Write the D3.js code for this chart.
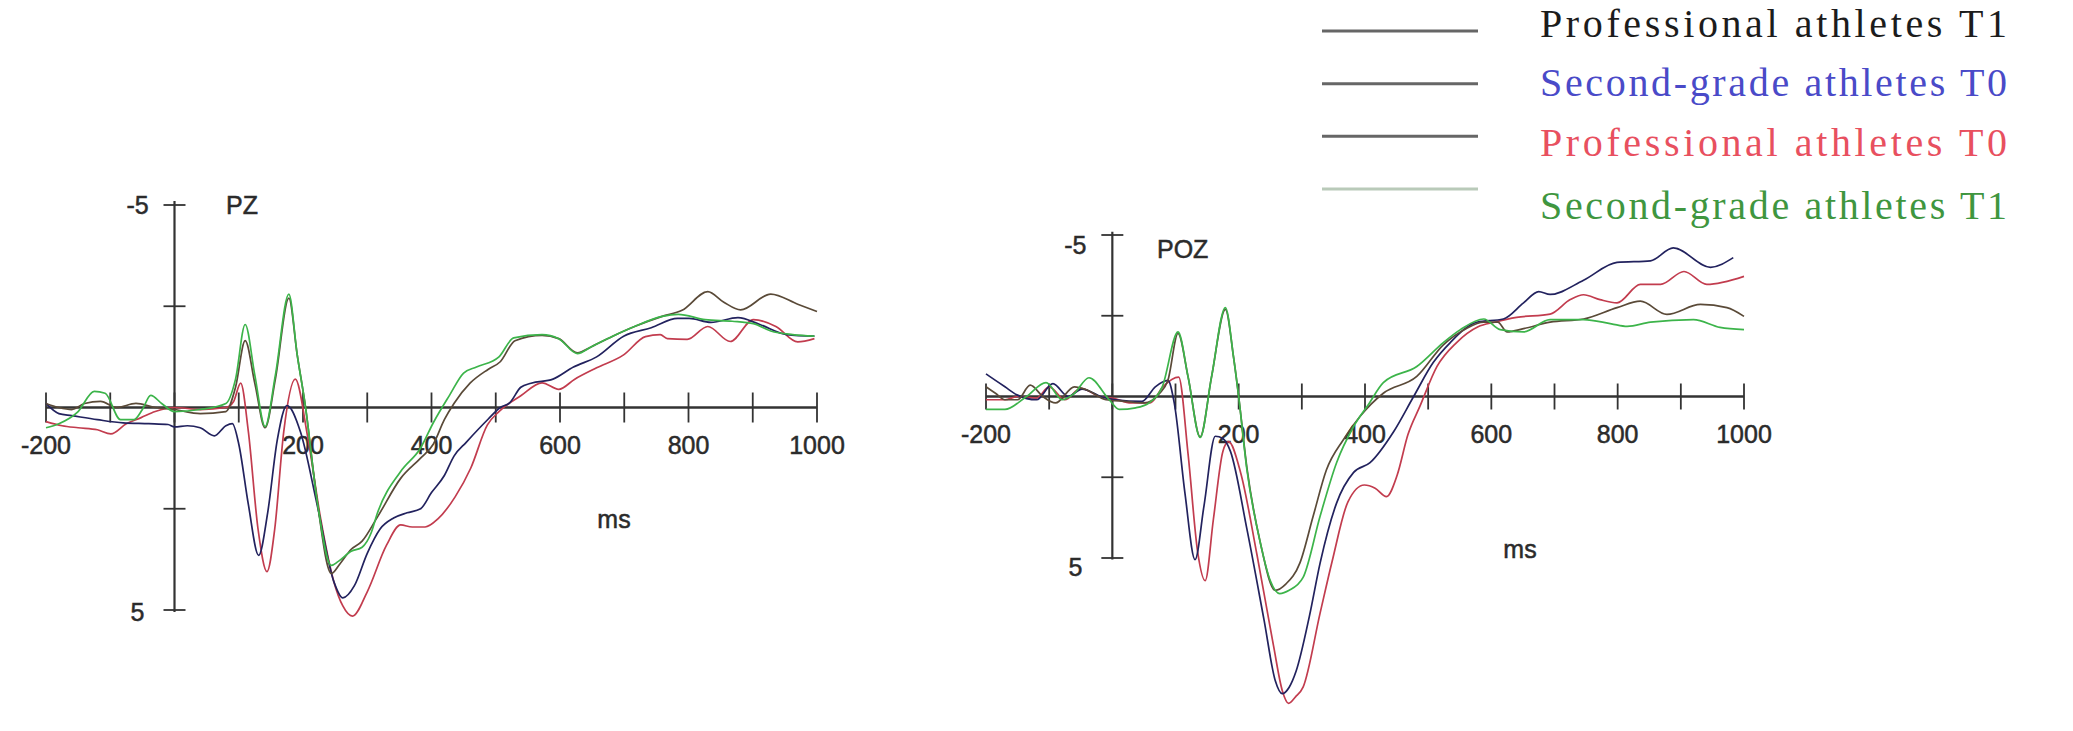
<!DOCTYPE html>
<html lang="en">
<head>
    <meta charset="utf-8">
    <title>ERP waveforms PZ / POZ</title>
    <script src="https://d3js.org/d3.v7.min.js"></script>
    <style>
        body { margin: 0; background: #fff; }
        .axis-line { stroke: #333; fill: none; }
        .tick-label {
            font-family: "Liberation Sans", Arial, sans-serif;
            font-size: 25px;
            fill: #2b2b2b;
            stroke: #2b2b2b;
            stroke-width: 0.5;
        }
        .wave { fill: none; stroke-width: 1.7; stroke-linejoin: round; }
        .legend-text {
            font-family: "Liberation Serif", "Times New Roman", serif;
            font-size: 40px;
        }
    </style>
</head>
<body>
<script>
    // series legend (same order as the colours below)
    var seriesNames = ["Professional athletes T1", "Second-grade athletes T0",
                       "Professional athletes T0", "Second-grade athletes T1"];

    // tick values / labels
    var xTicks = [-200, -100, 0, 100, 200, 300, 400, 500, 600, 700, 800, 900, 1000];
    var xTickLabels = [-200, 200, 400, 600, 800, 1000];
    var yTicks = [-5, -2.5, 2.5, 5];
    var yTickLabels = [-5, 5];

    // ---- PZ, [ms, uV] ----
    var pzProT1 = [[-200,-0.1],[-180,0.0],[-160,0.05],[-140,-0.1],[-115,-0.15],[-90,0.0],[-60,-0.1],[-30,0.0],[0,0.05],[40,0.15],[80,0.1],[95,-0.5],[110,-1.65],[125,-0.6],[141,0.5],[157,-0.7],[178,-2.7],[191,-1.3],[204,0.0],[222,2.3],[244,4.1],[258,3.85],[275,3.5],[292,3.3],[316,2.7],[352,1.75],[383,1.25],[403,0.9],[420,0.3],[435,-0.1],[460,-0.6],[488,-0.94],[507,-1.13],[530,-1.65],[572,-1.78],[598,-1.7],[627,-1.35],[649,-1.5],[682,-1.76],[716,-2.0],[759,-2.25],[790,-2.4],[830,-2.86],[855,-2.6],[881,-2.41],[928,-2.8],[970,-2.55],[1000,-2.37]];
    var pzSecT0 = [[-200,-0.1],[-180,0.15],[-160,0.2],[-120,0.3],[-80,0.38],[-40,0.4],[-10,0.42],[0,0.48],[20,0.45],[40,0.5],[62,0.7],[80,0.45],[90,0.4],[100,0.9],[115,2.4],[131,3.65],[145,2.6],[160,0.8],[175,-0.05],[196,0.6],[222,2.4],[248,4.3],[262,4.7],[280,4.4],[300,3.6],[320,3.0],[341,2.73],[362,2.6],[383,2.5],[400,2.1],[420,1.68],[435,1.2],[454,0.86],[488,0.29],[507,0.0],[522,-0.12],[539,-0.5],[555,-0.6],[589,-0.7],[621,-1.0],[657,-1.25],[699,-1.76],[742,-1.97],[783,-2.2],[801,-2.2],[835,-2.1],[877,-2.22],[911,-2.05],[953,-1.8],[996,-1.76]];
    var pzProT0 = [[-200,0.35],[-175,0.45],[-150,0.5],[-120,0.55],[-99,0.65],[-75,0.4],[-52,0.25],[-30,0.1],[0,0.0],[40,0.05],[80,0.0],[92,-0.15],[103,-0.6],[115,0.6],[130,3.0],[144,4.05],[156,3.0],[170,0.6],[188,-0.7],[207,0.7],[227,2.7],[248,4.3],[262,4.9],[277,5.15],[300,4.55],[330,3.4],[352,2.9],[370,2.95],[390,2.95],[410,2.75],[437,2.2],[461,1.5],[487,0.43],[505,0.1],[539,-0.29],[572,-0.61],[598,-0.45],[623,-0.7],[657,-0.98],[699,-1.3],[733,-1.75],[756,-1.8],[767,-1.7],[798,-1.68],[830,-2.0],[865,-1.63],[901,-2.17],[936,-2.0],[970,-1.62],[996,-1.7]];
    var pzSecT1 = [[-200,0.5],[-180,0.4],[-150,0.1],[-125,-0.4],[-108,-0.35],[-84,0.3],[-63,0.3],[-50,0.05],[-37,-0.3],[-20,-0.1],[0,0.1],[40,0.05],[80,-0.1],[95,-0.7],[110,-2.05],[125,-0.8],[141,0.47],[157,-0.8],[178,-2.8],[191,-1.3],[204,0.0],[222,2.3],[244,3.9],[255,3.8],[275,3.55],[292,3.45],[306,3.1],[316,2.6],[352,1.58],[383,1.0],[403,0.37],[428,-0.3],[450,-0.85],[470,-1.0],[505,-1.25],[528,-1.72],[572,-1.8],[598,-1.7],[627,-1.33],[649,-1.5],[682,-1.76],[716,-2.0],[759,-2.25],[784,-2.3],[826,-2.17],[868,-2.13],[901,-2.07],[928,-1.89],[962,-1.8],[996,-1.76]];

    // ---- POZ ----
    var pozProT1 = [[-200,-0.3],[-185,-0.1],[-170,0.1],[-150,0.1],[-130,-0.35],[-110,0.0],[-90,0.2],[-60,-0.3],[-40,-0.2],[-10,0.1],[20,0.15],[50,0.2],[75,-0.1],[88,-0.5],[104,-1.95],[120,-0.6],[139,1.25],[157,-0.6],[179,-2.7],[192,-1.2],[200,0.0],[213,2.2],[234,4.5],[258,6.0],[275,5.8],[297,5.15],[318,3.7],[339,2.27],[366,1.33],[392,0.62],[429,-0.1],[482,-0.62],[524,-1.6],[560,-2.1],[588,-2.3],[610,-2.3],[625,-2.0],[651,-2.1],[693,-2.3],[746,-2.4],[799,-2.75],[836,-2.95],[878,-2.54],[931,-2.85],[973,-2.75],[1000,-2.48]];
    var pozSecT0 = [[-200,-0.7],[-185,-0.5],[-170,-0.3],[-151,-0.05],[-120,0.1],[-94,-0.4],[-70,0.0],[-48,-0.23],[-16,0.02],[5,0.1],[47,0.15],[68,-0.3],[88,-0.5],[98,0.2],[115,3.0],[131,5.05],[145,3.4],[163,1.23],[175,1.3],[187,1.7],[213,4.1],[240,6.9],[258,8.8],[269,9.2],[280,9.0],[291,8.5],[312,6.8],[329,5.15],[355,3.3],[382,2.35],[408,2.05],[445,1.1],[477,0.0],[508,-1.05],[535,-1.67],[577,-2.3],[619,-2.4],[651,-2.9],[675,-3.25],[693,-3.16],[746,-3.6],[799,-4.15],[852,-4.2],[888,-4.6],[947,-4.0],[983,-4.3]];
    var pozProT0 = [[-200,0.1],[-170,0.1],[-150,0.0],[-120,0.05],[-100,-0.3],[-75,0.1],[-50,-0.25],[-20,0.0],[0,0.05],[30,0.2],[60,0.2],[80,-0.3],[105,-0.6],[120,1.8],[135,4.8],[147,5.7],[160,3.8],[175,1.7],[184,1.4],[203,2.35],[229,4.9],[255,7.7],[269,9.1],[279,9.5],[290,9.3],[302,9.0],[329,6.7],[348,5.1],[373,3.26],[399,2.74],[416,2.84],[434,3.1],[451,2.43],[468,1.18],[487,0.3],[514,-0.93],[545,-1.67],[579,-2.16],[605,-2.3],[640,-2.45],[693,-2.55],[725,-3.0],[746,-3.15],[772,-3.0],[799,-2.9],[836,-3.47],[868,-3.47],[905,-3.87],[941,-3.47],[1000,-3.72]];
    var pozSecT1 = [[-200,0.4],[-170,0.4],[-136,0.0],[-105,-0.43],[-79,0.1],[-60,-0.1],[-37,-0.58],[-5,0.1],[11,0.4],[37,0.35],[58,0.2],[79,-0.3],[104,-2.0],[120,-0.6],[139,1.27],[157,-0.6],[179,-2.75],[192,-1.2],[200,0.0],[213,2.26],[234,4.5],[250,5.7],[265,6.1],[280,6.0],[302,5.6],[329,3.7],[355,2.05],[382,0.93],[406,0.23],[429,-0.43],[482,-0.93],[524,-1.67],[551,-2.07],[588,-2.4],[614,-2.07],[651,-2.0],[693,-2.38],[746,-2.38],[790,-2.25],[815,-2.17],[852,-2.3],[920,-2.38],[962,-2.14],[1000,-2.07]];

    // colours (line colours as they appear in the plot, legend text colours)
    var lineColors = ["#5a4a38", "#22225e", "#c23c4e", "#3cb44a"];
    var legendTextColors = ["#1c1c1c", "#4a4ac8", "#e8505f", "#3f963f"];
    var legendLineColors = ["#666", "#666", "#666", "#b9cab9"];

    var width = 2073, height = 731;

    var svg = d3.select("body").append("svg")
        .attr("width", width)
        .attr("height", height)
        .style("background", "#fff");

    // panel layout
    var panels = [
        { name: "PZ", xr: [46, 817], yr: [205, 610], tick: 15,
          series: [pzProT1, pzSecT0, pzProT0, pzSecT1],
          nameX: 226, nameY: 214, msX: 614, msY: 528, yLabOff: [9, 11], drawOrder: [2, 1, 0, 3] },
        { name: "POZ", xr: [986, 1744], yr: [235, 558], tick: 13,
          series: [pozProT1, pozSecT0, pozProT0, pozSecT1],
          nameX: 1157, nameY: 258, msX: 1520, msY: 558, yLabOff: [19, 18], drawOrder: [2, 1, 0, 3] }
    ];

    panels.forEach(function(p) {
        var x = d3.scaleLinear().domain([-200, 1000]).range(p.xr);
        var y = d3.scaleLinear().domain([-5, 5]).range(p.yr);   // negative up
        var g = svg.append("g");

        // x axis line through zero
        g.append("line").attr("class", "axis-line")
            .attr("x1", x(-200)).attr("x2", x(1000))
            .attr("y1", y(0)).attr("y2", y(0))
            .attr("stroke-width", 2.6);

        g.selectAll(".xtick").data(xTicks).enter().append("line")
            .attr("class", "axis-line")
            .attr("x1", function(d) { return x(d); })
            .attr("x2", function(d) { return x(d); })
            .attr("y1", y(0) - p.tick).attr("y2", y(0) + p.tick)
            .attr("stroke-width", 1.8);

        g.selectAll(".xlab").data(xTickLabels).enter().append("text")
            .attr("class", "tick-label")
            .attr("x", function(d) { return x(d); })
            .attr("y", y(0) + 46)
            .attr("text-anchor", "middle")
            .text(function(d) { return d; });

        // y axis at 0 ms
        g.append("line").attr("class", "axis-line")
            .attr("x1", x(0)).attr("x2", x(0))
            .attr("y1", y(-5.1)).attr("y2", y(5.05))
            .attr("stroke-width", 2.2);

        g.selectAll(".ytick").data(yTicks).enter().append("line")
            .attr("class", "axis-line")
            .attr("x1", x(0) - 11).attr("x2", x(0) + 11)
            .attr("y1", function(d) { return y(d); })
            .attr("y2", function(d) { return y(d); })
            .attr("stroke-width", 1.8);

        g.selectAll(".ylab").data(yTickLabels).enter().append("text")
            .attr("class", "tick-label")
            .attr("x", x(0) - 37)
            .attr("y", function(d, i) { return y(d) + p.yLabOff[i]; })
            .attr("text-anchor", "middle")
            .text(function(d) { return d; });

        g.append("text").attr("class", "tick-label")
            .attr("x", p.nameX).attr("y", p.nameY)
            .text(p.name);

        g.append("text").attr("class", "tick-label")
            .attr("x", p.msX).attr("y", p.msY)
            .attr("text-anchor", "middle")
            .text("ms");

        var line = d3.line()
            .x(function(d) { return x(d[0]); })
            .y(function(d) { return y(d[1]); })
            .curve(d3.curveMonotoneX);

        p.drawOrder.forEach(function(i) {
            g.append("path")
                .attr("class", "wave")
                .attr("stroke", lineColors[i])
                .attr("d", line(p.series[i]));
        });
    });

    // legend, top right
    var legY = d3.scalePoint().domain(seriesNames).range([31, 189]);
    var legend = svg.append("g");

    legend.selectAll("line").data(seriesNames).enter().append("line")
        .attr("x1", 1322).attr("x2", 1478)
        .attr("y1", function(d) { return legY(d); })
        .attr("y2", function(d) { return legY(d); })
        .attr("stroke", function(d, i) { return legendLineColors[i]; })
        .attr("stroke-width", 3);

    // text rows sit a little lower than their lines, more so further down
    legend.selectAll("text").data(seriesNames).enter().append("text")
        .attr("class", "legend-text")
        .attr("x", 1540)
        .attr("y", function(d, i) { return legY(d) + 6 + 5 * i + i * i; })
        .attr("textLength", 467)
        .attr("lengthAdjust", "spacing")
        .attr("fill", function(d, i) { return legendTextColors[i]; })
        .text(function(d) { return d; });
</script>
</body>
</html>
